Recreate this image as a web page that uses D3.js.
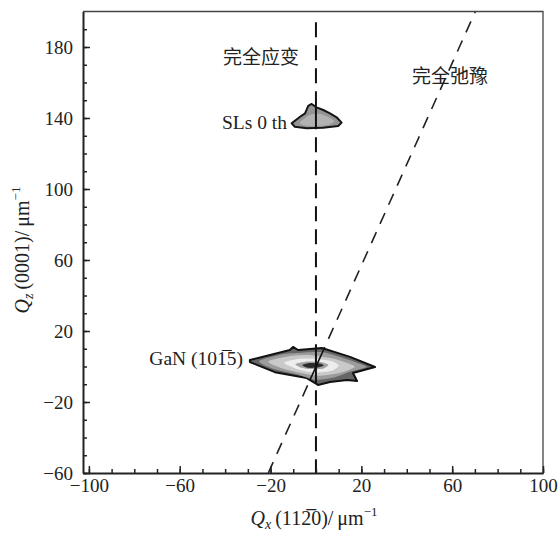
<!DOCTYPE html>
<html lang="zh">
<head>
<meta charset="UTF-8">
<title>GaN (10-15) reciprocal space map</title>
<script src="https://d3js.org/d3.v7.min.js"></script>
<style>
  body { margin: 0; background: #fff; }
  text { font-family: "Liberation Serif", "DejaVu Serif", serif; fill: #222; }
  .cjk { font-family: "Noto Sans CJK SC", sans-serif; }
</style>
</head>
<body>
<svg></svg>
<script>
// axis ticks
const xMajorTicks = [-100, -60, -20, 20, 60, 100];
const yMajorTicks = [-60, -20, 20, 60, 100, 140, 180];
const xMinorTicks = d3.range(-100, 101, 10);
const yMinorTicks = d3.range(-60, 200, 10);

// reference lines: fully strained (Qx = 0) and fully relaxed
const strainedQx = 0;
const relaxedLine = [[-21, -60], [70.2, 200]];

// SLs 0th peak outline [Qx, Qz]
const slsOuter = [[-10.7, 137], [-7, 140.7], [-4.8, 142.6], [-3.4, 146.8], [-1.9, 147.9], [0.3, 146],
  [3.2, 144.5], [6.2, 142.6], [9.1, 140.4], [11.3, 137.4], [9.8, 135.5], [3.2, 134.5], [-4.1, 134.2], [-9.3, 135.1]];
const slsInner = [[-7, 137.6], [-3, 141.5], [1, 142.5], [5, 140.8], [8, 138.2], [5, 136], [-2, 135.3], [-6, 136]];

// GaN (10-15) peak, outer outline and inner intensity levels [Qx, Qz]
const ganOuter = [[-29.1, 3.7], [-11.5, 9.3], [-10.1, 11], [-7.9, 9.3], [2.6, 10.4], [15, 5.4], [26, -0.3],
  [16.3, -3.7], [18.1, -8.2], [13.7, -7.6], [6.2, -8.7], [0.9, -10.4], [-4, -6.5],
  [-18.1, -3.2], [-29.1, 2.5]];
const ganLevels = [
  [[-25, 3], [-14, 7], [-6, 7.8], [3, 8], [12, 4.8], [20, 1.2], [22, -0.4], [15, -3], [8, -6.2], [0, -7.5], [-8, -4.6], [-18, -1.6]],
  [[-21, 2.8], [-12, 5.8], [-2, 6.4], [8, 4.4], [15, 1.4], [17, -0.4], [11, -3.4], [2, -5.2], [-7, -3.6], [-15, -1]],
  [[-14, 2], [-8, 4.2], [0, 4.4], [7, 3], [10, 0.6], [7, -2.4], [0, -3.4], [-7, -2]],
  [[-9, 1.4], [-4, 2.8], [2, 2.6], [5.5, 1], [3, -1.2], [-3, -1.4], [-7, -0.4]],
  [[-6, 0.9], [-2.5, 2], [2, 1.6], [3.5, 0.5], [1, -0.6], [-3.5, -0.7]]
];
const ganLevelFills = ["#9c9c9c", "#c9c9c9", "#ededed", "#a2a2a2", "#2a2a2a"];

const width = 559, height = 533;
const margin = {left: 83, right: 16, top: 11.5, bottom: 60};

const svg = d3.select("svg").attr("width", width).attr("height", height);

const x = d3.scaleLinear().domain([-102.6, 100]).range([margin.left, width - margin.right]);
const y = d3.scaleLinear().domain([-60, 200]).range([height - margin.bottom, margin.top]);

svg.append("clipPath").attr("id", "plot")
  .append("rect")
  .attr("x", x.range()[0]).attr("y", y.range()[1])
  .attr("width", x.range()[1] - x.range()[0]).attr("height", y.range()[0] - y.range()[1]);

const line = d3.line().x(d => x(d[0])).y(d => y(d[1]));
const spiky = d3.line().x(d => x(d[0])).y(d => y(d[1])).curve(d3.curveLinearClosed);
const smooth = d3.line().x(d => x(d[0])).y(d => y(d[1])).curve(d3.curveCardinalClosed.tension(0.3));

// dashed guide lines
const plot = svg.append("g").attr("clip-path", "url(#plot)");
plot.append("path")
  .attr("d", line([[strainedQx, 194], [strainedQx, -60]]))
  .attr("stroke", "#111").attr("stroke-width", 2).attr("stroke-dasharray", "15,8").attr("fill", "none");
plot.append("path")
  .attr("d", line(relaxedLine))
  .attr("stroke", "#222").attr("stroke-width", 1.6).attr("stroke-dasharray", "12,9").attr("fill", "none");

// peaks
svg.append("clipPath").attr("id", "sls").append("path").attr("d", spiky(slsOuter));
svg.append("clipPath").attr("id", "gan").append("path").attr("d", spiky(ganOuter));

plot.append("path").attr("d", spiky(slsOuter))
  .attr("fill", "#949494").attr("stroke", "#151515").attr("stroke-width", 2).attr("stroke-linejoin", "round");
plot.append("path").attr("d", smooth(slsInner)).attr("fill", "#b2b2b2");

plot.append("path").attr("d", spiky(ganOuter))
  .attr("fill", "#666").attr("stroke", "#111").attr("stroke-width", 2).attr("stroke-linejoin", "round");
const ganG = plot.append("g").attr("clip-path", "url(#gan)");
ganLevels.forEach((lv, i) => {
  ganG.append("path").attr("d", smooth(lv)).attr("fill", ganLevelFills[i]);
});

// guide lines show solid through the peaks
["sls", "gan"].forEach(id => {
  const g = plot.append("g").attr("clip-path", `url(#${id})`);
  g.append("path").attr("d", line([[strainedQx, 194], [strainedQx, -60]]))
    .attr("stroke", "#111").attr("stroke-width", 2).attr("fill", "none");
  g.append("path").attr("d", line(relaxedLine))
    .attr("stroke", "#111").attr("stroke-width", 1.6).attr("fill", "none");
});

// frame
svg.append("path")
  .attr("d", `M${x.range()[0]},${y.range()[1]}H${x.range()[1]}V${y.range()[0]}`)
  .attr("fill", "none").attr("stroke", "#444").attr("stroke-width", 1.3);

// axes with inward ticks
const axisFont = g => g.selectAll("text").style("font-size", "19px").attr("fill", "#222");

svg.append("g").attr("transform", `translate(0,${y.range()[0]})`)
  .call(d3.axisBottom(x).tickValues(xMinorTicks).tickSize(-4).tickSizeOuter(0).tickFormat(""))
  .call(g => g.selectAll("line").attr("stroke", "#222").attr("stroke-width", 1.5));
svg.append("g").attr("transform", `translate(0,${y.range()[0]})`)
  .call(d3.axisBottom(x).tickValues(xMajorTicks).tickSize(-7).tickSizeOuter(0).tickPadding(6)
    .tickFormat(d => d < 0 ? "\u2212" + Math.abs(d) : d))
  .call(g => g.select(".domain").attr("stroke", "#222").attr("stroke-width", 2))
  .call(g => g.selectAll("line").attr("stroke", "#222").attr("stroke-width", 1.5))
  .call(axisFont);

svg.append("g").attr("transform", `translate(${x.range()[0]},0)`)
  .call(d3.axisLeft(y).tickValues(yMinorTicks).tickSize(-4).tickSizeOuter(0).tickFormat(""))
  .call(g => g.selectAll("line").attr("stroke", "#222").attr("stroke-width", 1.5));
svg.append("g").attr("transform", `translate(${x.range()[0]},0)`)
  .call(d3.axisLeft(y).tickValues(yMajorTicks).tickSize(-7).tickSizeOuter(0).tickPadding(10)
    .tickFormat(d => d < 0 ? "\u2212" + Math.abs(d) : d))
  .call(g => g.select(".domain").attr("stroke", "#222").attr("stroke-width", 2))
  .call(g => g.selectAll("line").attr("stroke", "#222").attr("stroke-width", 1.5))
  .call(axisFont);

svg.selectAll(".domain").attr("fill", "none");

// axis titles
const xt = svg.append("text")
  .attr("x", 314).attr("y", 525).attr("text-anchor", "middle").style("font-size", "20px");
xt.append("tspan").attr("font-style", "italic").text("Q");
xt.append("tspan").attr("font-style", "italic").attr("dy", 4).style("font-size", "14px").text("x");
xt.append("tspan").attr("dy", -4).text("\u2009(112\u03050)/\u2009\u03bcm");
xt.append("tspan").attr("dy", -9).style("font-size", "13px").text("\u22121");

const yt = svg.append("text")
  .attr("transform", "translate(29,250) rotate(-90)").attr("text-anchor", "middle").style("font-size", "20px");
yt.append("tspan").attr("font-style", "italic").text("Q");
yt.append("tspan").attr("font-style", "italic").attr("dy", 4).style("font-size", "14px").text("z");
yt.append("tspan").attr("dy", -4).text("\u2009(0001)/\u2009\u03bcm");
yt.append("tspan").attr("dy", -9).style("font-size", "13px").text("\u22121");

// annotations
svg.append("text").attr("class", "cjk").attr("x", 261).attr("y", 64)
  .attr("text-anchor", "middle").style("font-size", "19px").text("完全应变");
svg.append("text").attr("class", "cjk").attr("x", 450).attr("y", 83)
  .attr("text-anchor", "middle").style("font-size", "19px").text("完全弛豫");
svg.append("text").attr("x", 287).attr("y", 129)
  .attr("text-anchor", "end").style("font-size", "19.5px").text("SLs 0 th");
svg.append("text").attr("x", 243).attr("y", 365)
  .attr("text-anchor", "end").style("font-size", "19.5px").text("GaN (101\u03055)");
</script>
</body>
</html>
